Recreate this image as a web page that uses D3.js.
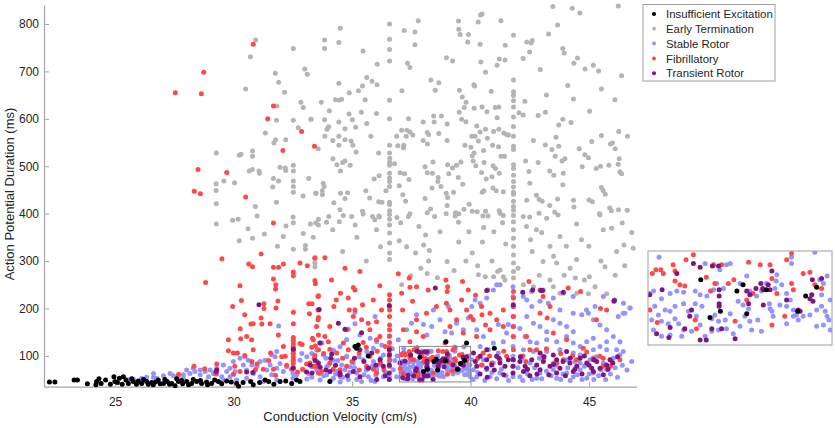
<!DOCTYPE html>
<html>
<head>
<meta charset="utf-8">
<script src="https://cdn.jsdelivr.net/npm/d3@7"></script>
<style>
  body { margin: 0; background: #fff; }
  svg { display: block; font-family: "Liberation Sans", Arial, sans-serif; }
</style>
</head>
<body>
<svg id="chart"></svg>
<script>
// [conduction velocity (cm/s), action potential duration (ms)] per simulation
const insufficientExcitation = [[22.23,45],[22.46,45],[23.27,49],[23.41,49],[23.83,41],[24.22,46],[24.32,52],[24.19,39],[24.41,42],[24.95,56],[24.99,46],[25.18,53],[25.35,56],[25.46,49],[25.56,42],[25.77,46],[25.98,47],[26.12,42],[26.33,46],[26.54,44],[26.61,39],[26.82,49],[27.04,42],[27.2,46],[27.39,42],[27.53,37],[27.67,46],[27.85,41],[28.02,46],[28.23,42],[28.44,46],[28.65,42],[28.86,45],[29.07,42],[29.36,46],[29.71,47],[30.13,42],[30.21,36],[30.72,46],[30.83,39],[31.33,49],[31.48,46],[31.96,46],[32.45,42],[32.66,49],[32.8,46],[24.6,49],[24.8,40],[25.1,44],[25.3,40],[25.7,52],[25.9,40],[26.2,50],[26.4,40],[26.7,45],[26.9,41],[27.1,50],[27.3,40],[27.6,52],[27.8,48],[28.1,39],[28.3,50],[28.6,48],[28.9,39],[29.2,49],[29.5,41],[29.9,45],[30.4,44],[31.1,44],[31.7,40],[32.2,47],[35.12,120],[35.26,123],[35.19,116],[35.68,100],[34.06,46],[39.83,127],[41.0,116],[38.96,130],
  [37.86,97],[38.01,67],[38.18,72],[38.45,88],[38.55,93],[38.61,70],[38.93,89],[39.44,72],[39.57,84],[39.75,91]];

const earlyTermination = [[43.47,837],[44.29,833],[44.61,823],[46.23,838],[40.48,821],[40.42,819],[36.58,800],[37.79,807],[39.49,806],[40.32,804],[41.28,807],[43.67,798],[34.5,791],[37.2,786],[37.65,783],[39.5,789],[39.56,778],[39.91,778],[43.29,779],[41.81,776],[33.84,766],[34.44,761],[39.88,762],[40.4,757],[41.46,755],[42.37,762],[42.6,765],[42.56,760],[33.84,748],[36.58,768],[36.58,746],[37.65,756],[43.89,748],[43.95,739],[42.49,741],[35.46,743],[36.58,722],[38.98,729],[39.24,722],[41.21,726],[41.45,724],[42.22,727],[44.51,728],[44.36,717],[36.06,715],[37.34,717],[37.44,708],[40.43,720],[40.63,698],[41.12,713],[42.94,704],[44.83,705],[45.18,713],[45.4,701],[46.37,691],[35.62,687],[35.84,679],[36.05,672],[38.32,682],[38.66,676],[40.14,672],[40.17,669],[41.81,682],[44.1,670],[45.52,663],[34.44,675],[35.44,669],[35.27,659],[34.88,655],[38.51,660],[37.1,659],[39.53,660],[40.87,658],[41.81,657],[41.81,649],[43.2,650],[33.7,635],[34.3,640],[34.47,639],[34.56,641],[35.55,640],[36.58,639],[39.65,646],[39.81,635],[41.81,638],[42.29,637],[44.34,642],[46.09,640],[34.04,617],[34.87,610],[35.39,614],[36.03,611],[39.73,624],[40.15,622],[40.48,625],[40.69,615],[41.04,624],[41.19,625],[39.52,614],[41.81,625],[42.04,613],[42.22,608],[42.85,607],[43.16,614],[45.02,616],[33.26,599],[33.84,598],[34.44,593],[35.01,598],[35.62,590],[36.58,600],[37.38,600],[38.0,593],[38.44,606],[38.46,593],[38.77,606],[39.01,589],[39.62,599],[39.8,594],[41.12,602],[41.81,604],[43.89,599],[43.72,587],[44.24,592],[34.01,583],[33.94,578],[34.7,579],[35.15,582],[37.09,576],[37.31,576],[37.56,566],[38.17,571],[38.23,567],[38.66,569],[40.26,585],[40.4,572],[40.63,578],[40.97,573],[41.19,578],[41.4,570],[41.52,567],[41.6,566],[41.81,584],[45.52,565],[46.25,573],[46.62,563],[33.85,563],[34.19,554],[34.44,563],[34.7,556],[34.96,553],[35.79,563],[36.88,563],[37.28,563],[37.44,572],[39.01,554],[40.05,563],[40.19,563],[40.33,553],[40.71,559],[41.81,563],[42.65,554],[43.15,545],[43.6,561],[43.72,542],[45.11,552],[45.9,547],[45.99,549],[46.1,537],[33.57,537],[34.44,544],[35.03,544],[35.17,530],[36.12,528],[36.58,544],[36.58,528],[36.93,543],[37.18,544],[37.17,539],[38.0,554],[38.18,547],[39.76,544],[40.01,540],[40.15,528],[40.55,533],[40.93,544],[41.18,541],[41.43,521],[41.28,521],[41.81,542],[41.81,535],[43.43,535],[43.57,521],[43.98,516],[44.58,537],[44.82,524],[44.97,518],[46.27,516],[34.19,516],[34.36,503],[34.6,508],[34.7,511],[34.92,502],[34.51,490],[36.58,509],[36.58,502],[36.79,505],[36.59,517],[38.41,509],[38.08,499],[39.03,503],[39.24,496],[39.41,502],[39.59,509],[40.07,522],[40.11,511],[40.22,501],[40.57,508],[40.95,501],[41.81,503],[41.81,495],[42.32,511],[42.85,508],[43.86,511],[44.71,499],[45.3,495],[45.48,500],[45.83,502],[46.23,504],[46.3,488],[46.37,484],[35.93,473],[36.14,480],[36.58,485],[36.58,475],[36.58,468],[37.02,486],[37.21,484],[37.4,472],[38.17,486],[38.39,485],[38.37,454],[38.63,476],[38.62,468],[39.08,484],[39.48,476],[39.67,462],[40.46,487],[40.66,473],[40.9,478],[41.05,495],[41.21,485],[41.81,481],[41.81,468],[42.46,489],[42.5,464],[43.34,490],[43.51,481],[43.91,485],[43.89,461],[33.78,464],[33.82,457],[33.46,443],[33.74,448],[33.75,440],[34.23,423],[34.51,443],[34.81,444],[34.7,432],[35.58,448],[35.74,433],[36.12,425],[36.26,424],[36.43,448],[36.58,457],[36.58,424],[36.58,419],[36.99,459],[37.26,426],[37.14,440],[38.08,432],[38.75,457],[38.97,443],[39.03,434],[39.28,445],[40.49,445],[40.56,448],[40.94,454],[41.08,448],[41.38,446],[41.81,456],[41.81,445],[41.81,441],[42.37,428],[42.78,439],[42.89,430],[43.02,426],[43.67,431],[44.34,428],[45.0,429],[45.14,425],[45.52,455],[45.59,449],[45.68,441],[34.02,394],[34.49,408],[35.44,405],[35.86,394],[36.13,395],[36.58,406],[36.58,398],[36.89,392],[37.37,394],[38.17,402],[38.31,410],[38.97,400],[39.01,417],[39.36,402],[39.5,400],[39.72,409],[39.94,420],[40.07,405],[40.52,395],[40.63,405],[41.21,406],[41.38,396],[41.81,426],[41.81,415],[41.81,407],[41.81,396],[42.49,393],[42.89,401],[43.34,417],[43.55,403],[43.69,397],[44.36,414],[45.44,400],[45.87,412],[45.94,406],[46.24,408],[46.61,407],
  [30.93,766],[30.71,731],[30.51,663],[32.52,748],[33.0,705],[33.11,694],[31.76,696],[31.9,677],[32.15,656],[32.84,635],[32.94,624],[31.83,627],[31.81,597],[32.52,597],[33.27,599],[32.73,581],[31.34,570],[31.77,556],[31.7,549],[32.2,556],[29.27,528],[30.24,523],[30.31,525],[30.8,532],[30.8,521],[29.26,463],[29.26,449],[29.27,421],[29.59,469],[30.04,465],[30.66,490],[30.79,493],[31.07,490],[31.09,485],[31.68,474],[31.65,456],[31.96,498],[31.9,469],[32.18,496],[32.2,491],[32.52,502],[32.52,490],[32.52,469],[32.52,457],[32.52,445],[33.17,474],[33.48,443],[32.93,437],[31.81,424],[30.92,415],[30.99,395],[32.51,393],[30.19,388],[33.58,388],
  [29.27,378],[29.96,386],[30.24,343],[30.61,368],[30.8,348],[31.3,357],[31.85,331],[32.1,352],[32.52,381],[32.52,325],[32.21,374],[32.94,358],[33.03,333],[33.03,325],[33.24,378],[33.36,350],[33.43,296],[33.43,288],[33.58,376],
  [33.47,380],[33.92,382],[34.18,366],[34.46,383],[34.63,396],[34.98,394],[35.13,376],[35.47,399],[35.96,387],[36.03,366],[36.15,393],[36.58,388],[36.58,376],[36.58,359],[36.58,338],[36.58,317],[36.58,303],[37.05,381],[36.99,343],[37.44,400],[37.82,373],[37.68,317],[38.02,334],[38.1,355],[38.26,322],[38.23,300],[38.48,394],[38.71,362],[39.01,299],[39.35,395],[39.49,382],[39.93,362],[40.07,317],[40.28,404],[40.55,371],[40.74,395],[40.98,362],[41.24,401],[41.35,381],[41.48,336],[41.24,281],[41.45,260],[41.14,278],[41.81,383],[41.81,366],[41.81,348],[41.81,331],[41.81,313],[41.81,296],[41.81,278],[41.81,264],[42.22,394],[42.36,373],[42.53,345],[42.78,366],[43.06,299],[43.21,390],[43.35,331],[43.63,296],[43.77,352],[43.95,270],[44.04,331],[44.47,378],[44.47,303],[44.68,345],[44.99,331],[45.25,246],[45.46,397],[45.67,288],[45.95,369],[46.16,320],[46.47,334],[46.86,327],[45.6,366],
  [37.09,250],[37.47,269],[38.17,274],[40.33,271],[40.62,267],[40.97,267],[41.38,267],[42.23,250],[42.65,246],[43.49,246],[43.77,232],[44.48,232],[44.42,264],[45.01,267],[44.97,231],[45.74,231],[43.35,260],
  [37.9,285],[38.6,265],[39.3,280],[39.8,300],[40.3,290],[40.9,300],[42.0,285],[42.9,270],[43.5,310],[44.2,285],[44.8,260],[45.5,300],[46.1,270],[46.5,290],[35.6,300],[34.6,320],[35.2,350],[36.2,330],[37.3,330],[39.5,340],[40.5,340],[42.6,320],[43.0,360],[46.4,380],[46.8,360]];

const stableRotor = [[25.77,51],[26.12,53],[26.62,63],[26.62,55],[27.04,58],[27.32,63],[27.46,58],[27.67,58],[27.88,60],[28.16,63],[28.37,67],[28.3,74],[28.59,70],[28.8,67],[29.01,70],[29.15,63],[29.29,74],[29.29,63],[29.57,81],[29.71,67],[29.85,74],[29.85,56],[30.06,67],[29.99,88],[30.27,95],[30.41,81],[30.48,98],[30.62,91],[30.55,70],[30.77,81],[30.84,63],[30.98,77],[31.12,88],[31.33,91],[31.4,70],[31.54,81],[31.61,60],[31.75,98],[31.82,74],[31.96,84],[32.1,67],[32.24,77],[32.51,134],[32.51,119],[32.51,105],[32.51,91],[32.51,77],[32.51,63],[32.51,53],[32.8,91],[32.95,70],[33.09,98],[33.3,77],[33.51,88],[33.65,63],[33.79,102],[33.93,77],[34.21,91],[34.35,67],[34.56,81],[34.77,98],[31.9,163],[29.5,56],[30.13,49],[31.12,56],[31.82,49],[33.09,51],[33.65,49],[34.21,53],[30.55,53],[31.26,46],[32.66,60],[33.93,60],[34.91,77],[31.61,102],[31.82,109],[32.88,105],[33.3,105],[33.51,112],[34.21,112],[34.49,119],[34.77,134],[33.72,127],[26.76,53],[26.33,55],[25.56,49],[27.88,53],[28.59,60],[28.94,56],[28.02,70],[29.57,49],
  [35.12,192],[35.12,168],[34.84,156],[35.33,144],[35.76,137],[35.97,183],[36.04,130],[36.25,123],[35.62,109],[35.9,116],[36.32,102],[36.57,141],[36.57,120],[36.57,99],[36.57,88],[36.57,56],[36.95,134],[37.3,155],[37.51,169],[37.72,187],[38.01,166],[38.15,144],[38.36,162],[38.43,197],[38.71,176],[38.92,151],[39.06,204],[39.2,148],[39.41,169],[39.69,155],[39.9,180],[40.05,204],[40.19,218],[40.4,211],[40.68,222],[40.26,155],[40.54,141],[40.4,120],[40.75,113],[40.96,127],[41.17,106],[41.38,130],[41.52,148],[41.59,166],[41.17,166],[40.96,239],[41.24,250],[41.79,246],[41.79,225],[41.79,204],[41.79,183],[41.79,162],[41.79,141],[41.79,120],[41.79,99],[41.79,78],[41.79,56],[42.37,218],[42.58,204],[42.93,215],[43.28,211],[42.37,183],[42.65,169],[42.93,162],[43.21,151],[43.49,176],[43.77,169],[44.05,162],[44.33,151],[43.77,197],[44.33,190],[44.69,187],[44.97,190],[45.18,176],[45.46,165],[45.74,155],[46.23,183],[46.45,211],[46.73,201],[46.51,190],[42.08,158],[42.3,141],[42.51,130],[42.79,127],[43.21,134],[43.63,130],[44.05,141],[44.33,127],[44.62,120],[44.9,130],[45.18,137],[45.46,120],[45.74,130],[46.02,141],[46.3,130],[46.44,109],[46.16,113],[45.74,113],[45.18,113],[44.62,102],[44.33,106],[43.77,113],[43.21,109],[42.65,109],[42.23,113],[42.16,95],[42.51,85],[43.07,92],[43.49,85],[44.05,92],[44.62,85],[45.04,92],[45.6,85],[46.02,95],[46.3,102],[42.37,71],[42.93,64],[43.49,71],[44.05,64],[44.62,71],[45.18,64],[45.74,71],[42.08,56],[42.79,53],[43.63,53],[44.33,56],[44.9,53],[40.96,85],[40.68,71],[41.24,64],[40.54,92],[40.26,56],[40.82,56],[40.05,92],[40.12,71],[34.77,99],[35.05,85],[35.47,92],[35.83,78],[36.18,85],[34.7,71],[35.19,64],[35.69,56],[36.04,71],[36.32,56],[34.84,50],[35.4,46],[35.97,46],[36.74,71],[36.88,56],[34.49,56],
  [46.72,201],[46.44,190],[46.09,218],[45.6,225],[45.25,204],[44.89,197],[44.33,225],[43.91,232],[43.49,222],[43.06,239],[42.57,236],[42.22,225],[41.1,250],
  [33.3,55],[33.5,70],[33.8,58],[34.0,80],[34.1,48],[34.3,62],[34.6,55],[34.9,65],[35.1,75],[35.2,50],[35.5,60],[35.6,70],[35.8,48],[36.0,60],[36.2,95],[36.4,65],[36.1,80],[34.4,90],[33.9,95],[35.3,98],[36.8,90],[36.9,100],[36.7,115],[33.2,62],[34.5,45],[35.9,88],
  [40.1,50],[40.3,65],[40.5,80],[40.6,48],[40.9,65],[41.1,52],[41.3,72],[41.5,58],[41.6,48],[42.0,75],[42.2,48],[42.4,62],[42.6,50],[42.7,75],[42.9,95],[43.0,52],[43.2,68],[43.4,58],[43.6,80],[43.8,50],[43.9,62],[44.1,75],[44.2,48],[44.4,88],[44.5,60],[44.7,50],[44.8,78],[45.0,62],[45.2,50],[45.3,98],[45.4,58],[45.5,70],[45.7,50],[45.9,62],[46.1,75],[46.2,55],[46.4,80],[46.6,70],[46.8,88],
  [37.18,115],[37.09,88],[37.02,86],[37.22,82],[37.36,86],[37.47,88],[37.58,87],[37.77,88],[37.85,85],[37.96,84],[38.07,89],[38.23,90],[38.12,94],[37.93,110],[38.17,105],[38.28,109],[38.34,110],[37.11,76],[37.17,69],[37.22,64],[37.28,73],[37.36,72],[37.44,76],[37.58,78],[37.66,72],[37.77,78],[37.88,76],[38.04,66],[38.09,69],[38.15,64],[38.26,65],[38.34,70],[38.47,80],[38.55,77],[38.64,74],[38.58,68],[38.66,64],[38.79,65],[37.06,65],[37.09,57],[37.33,62],[37.44,66],[37.5,62],[37.58,57],[37.71,56],[37.85,61],[37.55,52],[37.36,53],[37.22,52],[37.79,68],[38.15,57],[38.28,58],[38.39,54],[38.69,57],[38.85,56],[38.5,60],[38.98,78],[38.99,74],[39.02,72],[39.04,68],[39.07,90],[39.09,96],[39.1,101],[38.93,94],[38.85,88],[38.77,84],[38.66,88],[38.5,94],[38.61,100],[39.15,77],[39.26,76],[39.32,81],[39.37,73],[39.42,69],[39.45,65],[39.53,68],[39.64,69],[39.75,73],[39.83,76],[39.89,72],[39.92,68],[39.95,65],[39.86,61],[39.75,60],[39.26,62],[39.37,68],[39.86,94],[39.8,97],[39.92,100],[39.72,119],[39.34,115],[39.34,110],[39.83,85],[39.97,81],[39.26,86],[39.18,93],[38.04,56],[37.93,52],[39.97,57]];

const fibrillatory = [[27.54,655],[28.74,698],[28.64,653],[30.83,757],[31.68,627],[31.44,600],[32.87,573],[32.08,533],[33.41,542],[28.5,493],[29.71,487],[28.34,447],[28.6,442],[30.51,435],
  [31.68,380],[31.16,315],[29.51,305],[28.82,255],[30.64,294],[30.8,288],[31.68,287],[31.9,287],[32.1,294],[32.52,277],[32.52,269],[32.8,296],[33.11,290],[33.43,306],[30.27,248],[31.68,262],[31.78,250],[31.77,241],[33.45,252],[33.58,227],[29.96,204],[30.33,217],[31.28,210],[31.28,200],[31.79,201],[31.87,216],[32.52,192],[33.17,210],[33.31,210],[30.47,187],[30.73,167],[30.83,168],[31.16,180],[31.19,167],[31.54,168],[32.52,168],[33.2,189],[33.58,181],[29.78,134],[29.78,111],[30.28,157],[30.3,136],[30.55,141],[30.76,134],[30.83,113],[31.89,144],[32.1,120],[32.52,139],[32.52,132],[32.52,125],[32.52,118],[32.52,111],[32.52,104],[32.52,97],[32.52,90],[32.52,84],[32.8,126],[32.89,124],[33.33,137],[33.45,121],[33.58,144],[33.58,113],[29.99,106],[30.16,106],[30.47,101],[30.77,88],[30.99,83],[31.48,90],[31.56,106],[32.03,98],[32.18,99],[32.24,80],[29.29,83],[29.26,62],[28.33,78],[28.78,73],[27.68,61],[30.05,78],[30.27,67],[29.99,61],[30.92,71],[31.25,72],[31.68,72],[31.77,59],[32.45,72],[32.7,66],[32.91,72],[33.08,83],[33.36,78],[33.43,101],[33.58,64],
  [33.43,307],[33.43,259],[33.85,307],[34.7,285],[35.33,278],[34.13,260],[35.05,244],[36.17,248],[36.95,273],[37.41,264],[36.58,229],[36.58,218],[36.58,204],[36.58,197],[36.58,183],[36.58,165],[36.58,155],[36.58,142],[36.58,128],[36.58,116],[36.58,104],[36.58,92],[36.58,78],[37.72,246],[38.21,239],[38.96,260],[39.03,246],[39.01,236],[39.66,257],[39.62,218],[39.9,239],[40.21,228],[40.46,204],[40.82,190],[40.72,239],[33.56,225],[33.56,197],[33.56,176],[34.51,232],[34.33,218],[34.23,204],[34.84,222],[34.88,197],[35.12,239],[35.12,197],[35.44,208],[35.89,218],[35.68,169],[35.4,176],[36.03,172],[36.24,197],[36.17,141],[37.09,232],[37.13,197],[37.44,245],[37.55,215],[37.72,176],[38.14,190],[38.56,204],[38.98,211],[39.13,197],[39.41,176],[39.83,197],[40.0,183],[40.11,176],[40.48,187],[40.63,165],[41.1,176],[41.38,162],[41.81,236],[41.81,222],[41.81,204],[41.81,183],[41.81,162],[41.81,141],[41.81,113],[41.81,92],[42.46,257],[42.93,239],[43.06,225],[43.35,204],[42.93,190],[43.23,180],[44.12,243],[44.64,236],[45.48,200],[42.5,113],[42.78,113],[43.91,92],[44.75,116],[45.46,99],[45.96,88],[45.6,78],[33.36,134],[33.64,127],[34.06,114],[34.63,127],[34.84,113],[35.3,106],[35.47,128],[35.75,99],[36.06,110],[33.22,85],[33.5,78],[34.06,85],[34.49,71],[34.77,78],[35.61,78],[36.03,64],[36.34,71],[38.92,127],[40.53,106],[40.89,85],[40.46,81],[41.24,92],[41.52,99],[42.33,88],[43.06,99],[43.63,85],[44.47,92],[45.17,95],[34.35,106],[33.71,67],[39.13,162],[39.69,148],[40.25,141],[40.82,155],[41.38,197],[37.72,151],[37.16,155],[37.44,130],[38.0,141],[34.77,155],[35.05,183],[34.06,162],[33.5,162],[33.85,141],[35.75,155],[36.03,134],[42.36,141],[43.49,148],[44.05,134],[45.31,176],[45.74,197],
  [33.4,95],[33.8,105],[34.2,72],[34.6,95],[35.0,88],[35.3,70],[35.9,72],[36.2,85],[36.4,120],[34.0,130],[35.6,118],[33.3,118],[40.3,95],[40.8,100],[41.4,110],[42.2,100],[43.2,115],[43.8,105],[44.3,100],[44.9,108],[45.6,95],[46.3,92],[45.9,78],
  [37.74,117],[37.62,113],[37.41,109],[37.44,104],[37.21,105],[37.13,105],[37.25,102],[37.07,102],[37.44,96],[37.52,93],[37.6,92],[38.07,109],[37.95,99],[38.02,88],[38.09,94],[38.2,109],[38.31,94],[38.4,97],[38.64,111],[38.83,109],[38.99,109],[39.02,98],[39.26,113],[39.34,118],[39.53,102],[39.64,103],[39.34,94],[39.37,89],[39.1,86],[38.61,81],[38.71,86],[37.03,73],[37.15,63],[37.77,65],[37.79,58],[38.42,64],[39.02,61],[39.23,68],[39.83,90],[39.72,93]];

const transientRotor = [[34.7,156],[35.4,149],[36.57,206],[40.68,238],[42.2,234],[42.62,239],[43.04,238],[43.91,234],[46.05,215],[41.8,208],[36.57,113],[36.57,102],[36.57,81],[36.57,64],[36.57,50],[35.33,113],[35.83,106],[36.18,92],[36.32,78],[35.69,74],[35.05,67],[35.33,56],[34.49,64],[36.04,50],[40.12,106],[40.4,99],[40.68,92],[40.89,81],[41.1,99],[41.24,85],[41.45,78],[41.59,92],[40.68,74],[40.26,78],[41.79,92],[41.79,78],[41.79,64],[42.08,88],[42.3,78],[42.58,92],[42.79,81],[43.07,88],[43.35,78],[43.63,92],[43.77,74],[44.05,109],[44.19,85],[44.48,78],[44.62,95],[44.9,85],[45.11,74],[45.32,88],[45.46,74],[45.74,81],[45.88,92],[43.63,64],[44.33,67],[42.93,71],[42.23,67],[45.18,67],[43.49,102],[42.93,106],[40.68,113],[33.61,198],[38.51,243],[42.97,238],[46.06,217],[31.07,208],[32.52,114],[32.52,74],[30.55,66],[29.26,67],[33.08,66],[33.31,64],[33.58,85],[29.29,70],[30.81,65],[34.42,169],[33.23,81],[33.65,127],[34.14,104],[33.44,90],[33.65,76],[34.07,67],[34.49,60],
  [40.2,88],[40.4,62],[40.7,55],[41.0,70],[41.2,95],[41.4,60],[42.1,98],[42.4,72],[42.5,58],[42.8,62],[43.1,98],[43.3,60],[43.5,82],[43.9,88],[44.0,58],[44.2,95],[44.4,72],[44.7,62],[44.8,100],[45.0,80],[45.2,92],[45.6,60],[45.8,72],[46.0,85],[46.2,98],[33.9,70],[34.3,80],[34.8,58],[35.5,88],[36.0,80],[36.4,58],[34.1,95],[35.1,95],
  [37.74,110],[37.85,107],[38.15,108],[38.05,108],[37.47,102],[37.23,89],[37.03,85],[38.16,89],[38.16,84],[38.16,78],[38.16,76],[38.61,88],[38.66,85],[38.76,90],[38.84,94],[38.87,90],[38.88,89],[39.02,104],[38.96,93],[38.99,89],[39.26,81],[38.88,77],[38.64,78],[39.68,97],[39.83,98],[39.67,85],[39.64,82],[39.69,80],[39.45,73],[39.48,72],[37.71,73],[37.68,68],[37.36,59],[37.14,54],[37.34,51],[37.6,58],[37.85,49],[37.95,49],[38.04,58],[38.2,58],[38.42,50]];

const seriesNames = ["Insufficient Excitation", "Early Termination", "Stable Rotor", "Fibrillatory", "Transient Rotor"];
const seriesData = [insufficientExcitation, earlyTermination, stableRotor, fibrillatory, transientRotor];
const seriesColors = ["#000000", "#b4b4b4", "#9494ff", "#ff4848", "#7e1580"];
const drawOrder = [1, 2, 3, 4, 0];

const xTicks = [25, 30, 35, 40, 45];
const yTicks = [100, 200, 300, 400, 500, 600, 700, 800];
const xDomain = [22, 47];
const yDomain = [35, 840];
const zoomWindow = { x: [37, 40], y: [45, 120] };

const width = 835, height = 428;
const svg = d3.select("#chart").attr("width", width).attr("height", height);
svg.append("rect").attr("width", width).attr("height", height).attr("fill", "#fff");

const x = d3.scaleLinear().domain(xDomain).range([44, 636.5]);
const y = d3.scaleLinear().domain(yDomain).range([386.7, 5]);

const axisColor = "#a6a6a6", textColor = "#262626";

function styleAxis(g) {
  g.select(".domain").attr("stroke", axisColor).attr("stroke-width", 1.2);
  g.selectAll(".tick line").attr("stroke", axisColor).attr("stroke-width", 1);
  g.selectAll(".tick text").attr("fill", textColor).attr("font-size", 12)
    .attr("font-family", '"Liberation Sans", Arial, sans-serif');
}

svg.append("g")
  .attr("transform", `translate(0,${y.range()[0]})`)
  .call(d3.axisBottom(x).tickValues(xTicks).tickSizeInner(-5).tickSizeOuter(0).tickPadding(11))
  .call(styleAxis);

svg.append("g")
  .attr("transform", `translate(${x.range()[0]},0)`)
  .call(d3.axisLeft(y).tickValues(yTicks).tickSizeInner(-5).tickSizeOuter(0).tickPadding(5))
  .call(styleAxis);

// points
const r = 2.5;
const plot = svg.append("g");
drawOrder.forEach(i => {
  plot.append("g").attr("fill", seriesColors[i])
    .selectAll("circle").data(seriesData[i]).join("circle")
    .attr("cx", d => x(d[0])).attr("cy", d => y(d[1])).attr("r", r);
});

// zoom window marker
svg.append("rect")
  .attr("x", x(zoomWindow.x[0])).attr("y", y(zoomWindow.y[1]))
  .attr("width", x(zoomWindow.x[1]) - x(zoomWindow.x[0]))
  .attr("height", y(zoomWindow.y[0]) - y(zoomWindow.y[1]))
  .attr("fill", "none").attr("stroke", "#8a8a8a").attr("stroke-width", 1);

// inset: magnified view of the zoom window
const ix = d3.scaleLinear().domain(zoomWindow.x).range([648, 832]);
const iy = d3.scaleLinear().domain(zoomWindow.y).range([345, 251]);
svg.append("clipPath").attr("id", "insetClip").append("rect")
  .attr("x", ix.range()[0]).attr("y", iy.range()[1])
  .attr("width", ix.range()[1] - ix.range()[0]).attr("height", iy.range()[0] - iy.range()[1]);
const inset = svg.append("g").attr("clip-path", "url(#insetClip)");
drawOrder.forEach(i => {
  const pts = seriesData[i].filter(d =>
    d[0] >= zoomWindow.x[0] - 0.05 && d[0] <= zoomWindow.x[1] + 0.05 &&
    d[1] >= zoomWindow.y[0] - 2 && d[1] <= zoomWindow.y[1] + 2);
  inset.append("g").attr("fill", seriesColors[i])
    .selectAll("circle").data(pts).join("circle")
    .attr("cx", d => ix(d[0])).attr("cy", d => iy(d[1])).attr("r", r);
});
svg.append("rect")
  .attr("x", ix.range()[0]).attr("y", iy.range()[1])
  .attr("width", ix.range()[1] - ix.range()[0]).attr("height", iy.range()[0] - iy.range()[1])
  .attr("fill", "none").attr("stroke", "#a0a0a0").attr("stroke-width", 1);

// axis labels
svg.append("text")
  .attr("x", (x.range()[0] + x.range()[1]) / 2).attr("y", 421)
  .attr("text-anchor", "middle").attr("font-size", 13).attr("fill", textColor)
  .text("Conduction Velocity (cm/s)");
svg.append("text")
  .attr("transform", "translate(14,194) rotate(-90)")
  .attr("text-anchor", "middle").attr("font-size", 13).attr("fill", textColor)
  .text("Action Potential Duration (ms)");

// legend
const legend = svg.append("g");
legend.append("rect").attr("x", 643).attr("y", 4.5).attr("width", 132).attr("height", 76.5)
  .attr("fill", "#fff").attr("stroke", "#a0a0a0").attr("stroke-width", 1);
seriesNames.forEach((name, i) => {
  const cy = 14 + i * 14.8;
  legend.append("circle").attr("cx", 654).attr("cy", cy).attr("r", 2).attr("fill", seriesColors[i]);
  legend.append("text").attr("x", 666).attr("y", cy).attr("dy", "0.36em")
    .attr("font-size", 11.4).attr("fill", textColor).text(name);
});
</script>
</body>
</html>
